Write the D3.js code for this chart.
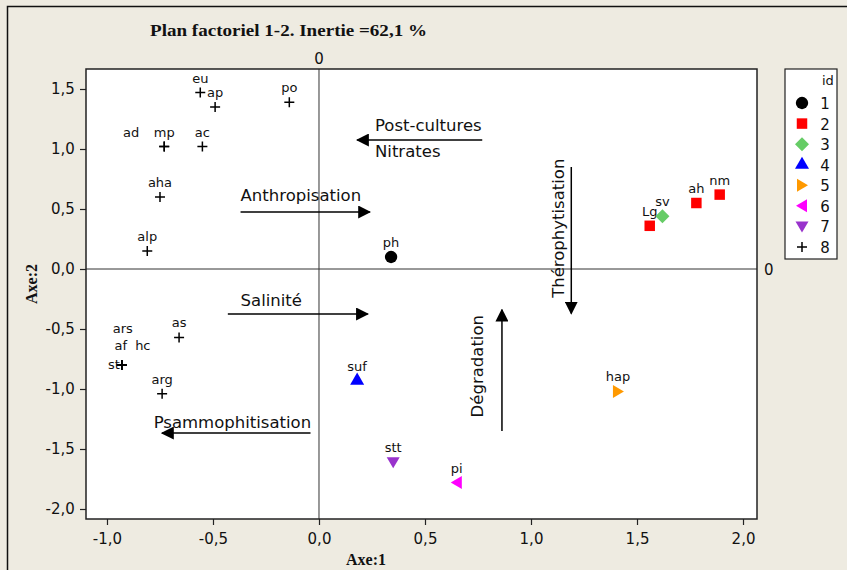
<!DOCTYPE html>
<html>
<head>
<meta charset="utf-8">
<script src="https://cdn.jsdelivr.net/npm/d3@7"></script>
<style>
  body { margin: 0; background: #eeebe1; }
  svg text { font-family: "DejaVu Sans", sans-serif; fill: #111; }
  .title, .axlabel { font-family: "Liberation Serif", serif; font-weight: bold; }
</style>
</head>
<body>
<div id="container"></div>
<script>
// observations (name, Axe:1, Axe:2, id group)
const names  = ['ph', 'Lg', 'ah', 'nm', 'sv', 'suf', 'hap', 'pi', 'stt',
                'eu', 'ap', 'po', 'ad', 'mp', 'ac', 'aha', 'alp',
                'as', 'ars', 'af', 'hc', 'st', 'arg'];
const axe1   = [0.34, 1.56, 1.78, 1.89, 1.62, 0.18, 1.41, 0.65, 0.35,
                -0.56, -0.49, -0.14, -0.73, -0.73, -0.55, -0.75, -0.81,
                -0.66, -0.93, -0.93, -0.93, -0.93, -0.74];
const axe2   = [0.10, 0.36, 0.55, 0.62, 0.44, -0.93, -1.02, -1.78, -1.61,
                1.47, 1.35, 1.39, 1.02, 1.02, 1.02, 0.60, 0.15,
                -0.57, -0.80, -0.80, -0.80, -0.80, -1.04];
const ids    = [1, 2, 2, 2, 3, 4, 5, 6, 7,
                8, 8, 8, 8, 8, 8, 8, 8,
                8, 8, 8, 8, 8, 8];

const groupIds    = [1, 2, 3, 4, 5, 6, 7, 8];
const groupColors = ['#000000', '#ff0000', '#66cc66', '#0000ff', '#ff9900', '#ff00ff', '#9933cc', '#000000'];
const groupShapes = ['circle', 'square', 'diamond', 'up', 'right', 'left', 'down', 'cross'];

const xTicks = [-1, -0.5, 0, 0.5, 1, 1.5, 2];
const yTicks = [1.5, 1, 0.5, 0, -0.5, -1, -1.5, -2];

// interpretation arrows, in factor coordinates
const arrows = [
  { x1: 0.77, y1: 1.075, x2: 0.18, y2: 1.075 },   // post-cultures
  { x1: -0.37, y1: 0.475, x2: 0.24, y2: 0.475 },  // anthropisation
  { x1: -0.43, y1: -0.375, x2: 0.23, y2: -0.375 },// salinite
  { x1: -0.04, y1: -1.367, x2: -0.74, y2: -1.367 },// psammo
  { x1: 1.19, y1: 0.85, x2: 1.19, y2: -0.37 },    // therophytisation
  { x1: 0.863, y1: -1.35, x2: 0.863, y2: -0.34 }  // degradation
];
const notes = [
  { text: 'Post-cultures', x: 0.264, y: 1.15, rot: false },
  { text: 'Nitrates', x: 0.264, y: 0.935, rot: false },
  { text: 'Anthropisation', x: -0.37, y: 0.565, rot: false },
  { text: 'Salinité', x: -0.37, y: -0.31, rot: false },
  { text: 'Psammophitisation', x: -0.78, y: -1.325, rot: false },
  { text: 'Thérophytisation', x: 1.158, y: 0.34, rot: true },
  { text: 'Dégradation', x: 0.775, y: -0.81, rot: true }
];

// label nudges for crowded points
const nudge = { ad: [-33, 0], ars: [1, -22], af: [-1, -5], hc: [21, -5], st: [-8, 14] };

const W = 847, H = 570;
const svg = d3.select('#container').append('svg')
  .attr('width', W).attr('height', H);

svg.append('rect').attr('x', 0).attr('y', 0).attr('width', W).attr('height', H).attr('fill', '#eeebe1');
svg.append('path').attr('d', `M7.5,${H} V6.5 H${W}`).attr('fill', 'none').attr('stroke', '#111').attr('stroke-width', 1.5);

const plot = { left: 86, right: 757, top: 69, bottom: 519 };

const x = d3.scaleLinear().domain([-1.099, 2.066]).range([plot.left, plot.right]);
const y = d3.scaleLinear().domain([1.6667, -2.0833]).range([plot.top, plot.bottom]);

svg.append('rect')
  .attr('x', plot.left).attr('y', plot.top)
  .attr('width', plot.right - plot.left).attr('height', plot.bottom - plot.top)
  .attr('fill', '#fff');

// reference lines at 0
svg.append('line').attr('x1', x(0)).attr('x2', x(0)).attr('y1', plot.top).attr('y2', plot.bottom)
  .attr('stroke', '#333').attr('stroke-width', 1);
svg.append('line').attr('x1', plot.left).attr('x2', plot.right).attr('y1', y(0)).attr('y2', y(0))
  .attr('stroke', '#333').attr('stroke-width', 1);

svg.append('rect')
  .attr('x', plot.left).attr('y', plot.top)
  .attr('width', plot.right - plot.left).attr('height', plot.bottom - plot.top)
  .attr('fill', 'none').attr('stroke', '#222').attr('stroke-width', 1.5);

const fmt = d => d3.format('.1f')(d).replace('.', ',').replace('−', '-');

const xAxis = svg.append('g')
  .attr('transform', `translate(0,${plot.bottom})`)
  .call(d3.axisBottom(x).tickValues(xTicks).tickFormat(fmt).tickSize(6).tickSizeOuter(0));
const yAxis = svg.append('g')
  .attr('transform', `translate(${plot.left},0)`)
  .call(d3.axisLeft(y).tickValues(yTicks).tickFormat(fmt).tickSize(6).tickSizeOuter(0));
[xAxis, yAxis].forEach(a => {
  a.select('.domain').remove();
  a.selectAll('line').attr('stroke', '#222').attr('stroke-width', 1.2);
  a.selectAll('text').attr('font-family', '"DejaVu Sans", sans-serif').attr('font-size', 15).attr('fill', '#111');
});
xAxis.selectAll('text').attr('dy', '1.05em');
yAxis.selectAll('text').attr('dx', '-0.15em');

// reference line labels
svg.append('text').attr('x', x(0)).attr('y', 64).attr('text-anchor', 'middle').attr('font-size', 15).text('0');
svg.append('text').attr('x', 764).attr('y', y(0) + 6).attr('font-size', 15).text('0');

svg.append('text').attr('class', 'title')
  .attr('x', 150).attr('y', 36).attr('font-size', 17)
  .attr('textLength', 277).attr('lengthAdjust', 'spacingAndGlyphs')
  .text('Plan factoriel 1-2. Inertie =62,1 %');

svg.append('text').attr('class', 'axlabel')
  .attr('x', 366).attr('y', 565).attr('text-anchor', 'middle').attr('font-size', 16)
  .text('Axe:1');
svg.append('text').attr('class', 'axlabel')
  .attr('transform', `translate(37,284) rotate(-90)`).attr('text-anchor', 'middle').attr('font-size', 16)
  .text('Axe:2');

// arrows
const defs = svg.append('defs');
defs.append('marker').attr('id', 'head')
  .attr('viewBox', '0 0 10 10').attr('refX', 9).attr('refY', 5)
  .attr('markerWidth', 13).attr('markerHeight', 13).attr('markerUnits', 'userSpaceOnUse')
  .attr('orient', 'auto')
  .append('path').attr('d', 'M0,0 L10,5 L0,10 Z').attr('fill', '#000');

svg.selectAll('.arrow').data(arrows).join('line')
  .attr('class', 'arrow')
  .attr('x1', d => x(d.x1)).attr('y1', d => y(d.y1))
  .attr('x2', d => x(d.x2)).attr('y2', d => y(d.y2))
  .attr('stroke', '#000').attr('stroke-width', 1.5)
  .attr('marker-end', 'url(#head)');

svg.selectAll('.note').data(notes).join('text')
  .attr('class', 'note')
  .attr('font-size', 16.5)
  .attr('text-anchor', d => d.rot ? 'middle' : 'start')
  .attr('transform', d => d.rot
    ? `translate(${x(d.x)},${y(d.y)}) rotate(-90)`
    : `translate(${x(d.x)},${y(d.y)})`)
  .text(d => d.text);

// symbols
const sym = {
  circle: d3.symbol(d3.symbolCircle, 120),
  square: d3.symbol(d3.symbolSquare, 110),
  up: d3.symbol(d3.symbolTriangle, 85)
};
function shapePath(shape) {
  if (shape === 'cross') return 'M-5,0 H5 M0,-5 V5';
  if (shape === 'diamond') return 'M0,-7 L7,0 L0,7 L-7,0 Z';
  if (shape === 'down') return 'M-6.5,-5 L6.5,-5 L0,6 Z';
  if (shape === 'right') return 'M-5,-6.5 L6,0 L-5,6.5 Z';
  if (shape === 'left') return 'M5,-6.5 L-6,0 L5,6.5 Z';
  return sym[shape]();
}
function styleShape(sel, gi) {
  const shape = groupShapes[gi];
  const col = groupColors[gi];
  sel.attr('d', shapePath(shape))
    .attr('fill', shape === 'cross' ? 'none' : col)
    .attr('stroke', shape === 'cross' ? col : 'none')
    .attr('stroke-width', 1.5);
}

const pts = names.map((n, i) => ({ name: n, a1: axe1[i], a2: axe2[i], id: ids[i] }));

const labelsG = svg.append('g');
labelsG.selectAll('text').data(pts).join('text')
  .attr('x', d => x(d.a1) + (nudge[d.name] ? nudge[d.name][0] : 0))
  .attr('y', d => y(d.a2) - 10 + (nudge[d.name] ? nudge[d.name][1] : 0))
  .attr('text-anchor', 'middle')
  .attr('font-size', 13)
  .text(d => d.name);

svg.append('g').selectAll('path').data(pts).join('path')
  .attr('transform', d => `translate(${x(d.a1)},${y(d.a2)})`)
  .each(function (d) { styleShape(d3.select(this), groupIds.indexOf(d.id)); });

// legend
const lg = svg.append('g');
lg.append('rect').attr('x', 785).attr('y', 69).attr('width', 52).attr('height', 190)
  .attr('fill', '#fff').attr('stroke', '#222').attr('stroke-width', 1.2);
lg.append('text').attr('x', 822).attr('y', 85).attr('font-size', 13).text('id');
const ly = d3.scalePoint().domain(groupIds).range([103, 247]);
groupIds.forEach((g, i) => {
  lg.append('path').attr('transform', `translate(802,${ly(g)})`).call(styleShape, i);
  lg.append('text').attr('x', 825).attr('y', ly(g) + 6).attr('text-anchor', 'middle')
    .attr('font-size', 15).text(g);
});
</script>
</body>
</html>
